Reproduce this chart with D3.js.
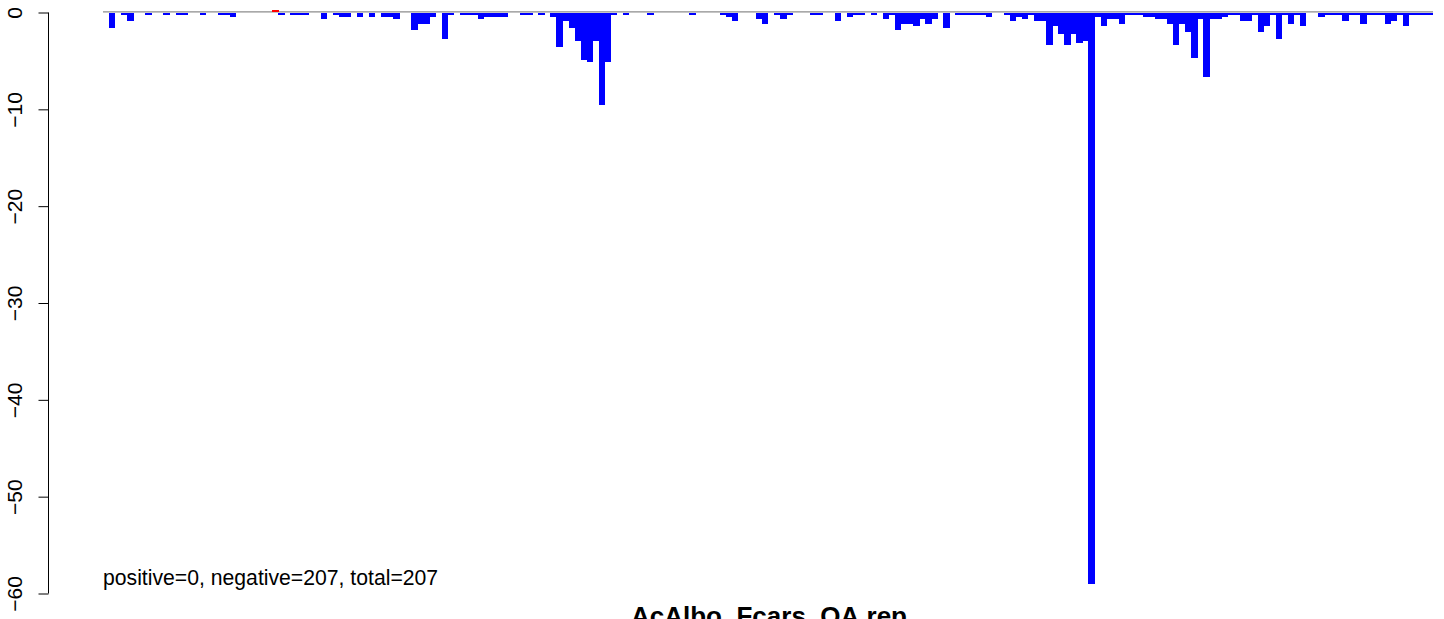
<!DOCTYPE html>
<html>
<head>
<meta charset="utf-8">
<script src="https://cdn.jsdelivr.net/npm/d3@7"></script>
<style>
  html, body { margin: 0; padding: 0; background: #fff; }
  svg { display: block; }
  text { font-family: "Liberation Sans", Arial, sans-serif; }
</style>
</head>
<body>
<svg id="chart" width="1444" height="619"></svg>
<script>
// ---- data ----
const values = [
  0, -1.62, 0, -0.24, -0.86, 0, 0, -0.24, 0, 0,
  -0.24, 0, -0.24, -0.24, 0, 0, -0.24, 0, 0, -0.24,
  -0.24, -0.45, 0, 0, 0, 0, 0, 0, 0.24, -0.24,
  0, -0.24, -0.24, -0.24, 0, 0, -0.66, 0, -0.24, -0.45,
  -0.45, 0, -0.45, 0, -0.45, 0, -0.45, -0.45, -0.66, 0,
  0, -1.79, -1.17, -1.17, -0.45, 0, -2.72, -0.24, 0, -0.24,
  -0.24, -0.24, -0.66, -0.45, -0.45, -0.45, -0.45, 0, 0, -0.24,
  -0.24, 0, -0.24, 0, -0.45, -3.56, -0.85, -1.57, -2.91, -4.87,
  -5.08, -2.91, -9.52, -5.08, -0.24, 0, -0.24, 0, 0, 0,
  -0.24, 0, 0, 0, 0, 0, 0, -0.24, 0, 0,
  0, 0, -0.24, -0.45, -0.86, 0, 0, 0, -0.66, -1.17,
  0, -0.24, -0.66, -0.24, 0, 0, 0, -0.24, -0.24, 0,
  0, -0.86, 0, -0.45, -0.24, -0.24, 0, -0.24, 0, -0.66,
  -0.24, -1.79, -1.17, -1.17, -1.38, -0.66, -1.17, -0.66, 0, -1.57,
  0, -0.24, -0.24, -0.24, -0.24, -0.24, -0.45, 0, 0, -0.24,
  -0.86, -0.45, -0.66, -0.24, -0.85, -0.85, -3.32, -1.36, -2.19, -3.32,
  -2.19, -3.12, -2.91, -59.0, -0.43, -1.36, -0.64, -0.64, -1.16, -0.23,
  -0.23, -0.23, -0.43, -0.43, -0.64, -0.64, -1.16, -3.32, -1.16, -1.98,
  -4.67, -0.64, -6.63, -0.64, -0.64, -0.43, -0.23, -0.23, -0.85, -0.85,
  -0.23, -1.98, -1.36, -0.23, -2.70, -0.23, -1.16, -0.23, -1.36, 0,
  0, -0.43, -0.23, -0.23, -0.23, -0.85, -0.23, -0.23, -1.16, -0.23,
  -0.23, -0.23, -1.16, -0.85, -0.23, -1.36, -0.23, -0.23, -0.23, -0.23
];
const categories = values.map((v, i) => i + 1);
const yTicks = [0, -10, -20, -30, -40, -50, -60];
const yTickLabels = ["0", "\u221210", "\u221220", "\u221230", "\u221240", "\u221250", "\u221260"];
const title = "AcAlbo_Fcars_OA.rep";
const summary = "positive=0, negative=207, total=207";

// ---- drawing ----
const svg = d3.select("#chart");

const x = d3.scaleBand().domain(categories).range([103, 1433]).padding(0);
const y = d3.scaleLinear().domain([-60, 0]).range([593.5, 12.5]);

// zero line
svg.append("line")
  .attr("x1", x.range()[0]).attr("x2", x.range()[1])
  .attr("y1", y(0) - 0.6).attr("y2", y(0) - 0.6)
  .attr("stroke", "#8c8c8c").attr("stroke-width", 1.2);

// bars
svg.append("g")
  .attr("shape-rendering", "crispEdges")
  .selectAll("rect")
  .data(categories.map((c, i) => ({ c, v: values[i] })).filter(d => d.v !== 0))
  .join("rect")
  .attr("x", d => x(d.c))
  .attr("width", x.bandwidth() + 0.4)
  .attr("y", d => d.v > 0 ? y(d.v) - 0.6 : y(0))
  .attr("height", d => Math.abs(y(d.v) - y(0)))
  .attr("fill", d => d.v > 0 ? "#ff0000" : "#0000ff");

// y axis
const axis = d3.axisLeft(y)
  .tickValues(yTicks)
  .tickSize(10)
  .tickFormat((d, i) => yTickLabels[i]);

const gAxis = svg.append("g")
  .attr("transform", "translate(48.5,0)")
  .call(axis);
gAxis.select(".domain")
  .attr("d", `M0,${y(0)}V${y(-60)}`)
  .attr("stroke", "#000").attr("stroke-width", 1);
gAxis.selectAll(".tick line").attr("stroke", "#000").attr("stroke-width", 1);
gAxis.selectAll(".tick text")
  .attr("x", null).attr("dy", null)
  .attr("transform", "translate(-26.5,0) rotate(-90)")
  .attr("text-anchor", "middle")
  .attr("fill", "#000")
  .style("font-size", "21px")
  .style("font-family", "'Liberation Sans', Arial, sans-serif");

// summary text
svg.append("text")
  .attr("x", 103).attr("y", 585)
  .attr("font-size", 21.2)
  .attr("fill", "#000")
  .text(summary);

// title (partly cut at bottom edge, as in the reference)
svg.append("text")
  .attr("x", 769).attr("y", 625)
  .attr("text-anchor", "middle")
  .attr("font-size", 26)
  .attr("font-weight", "bold")
  .attr("fill", "#000")
  .text(title);
</script>
</body>
</html>
